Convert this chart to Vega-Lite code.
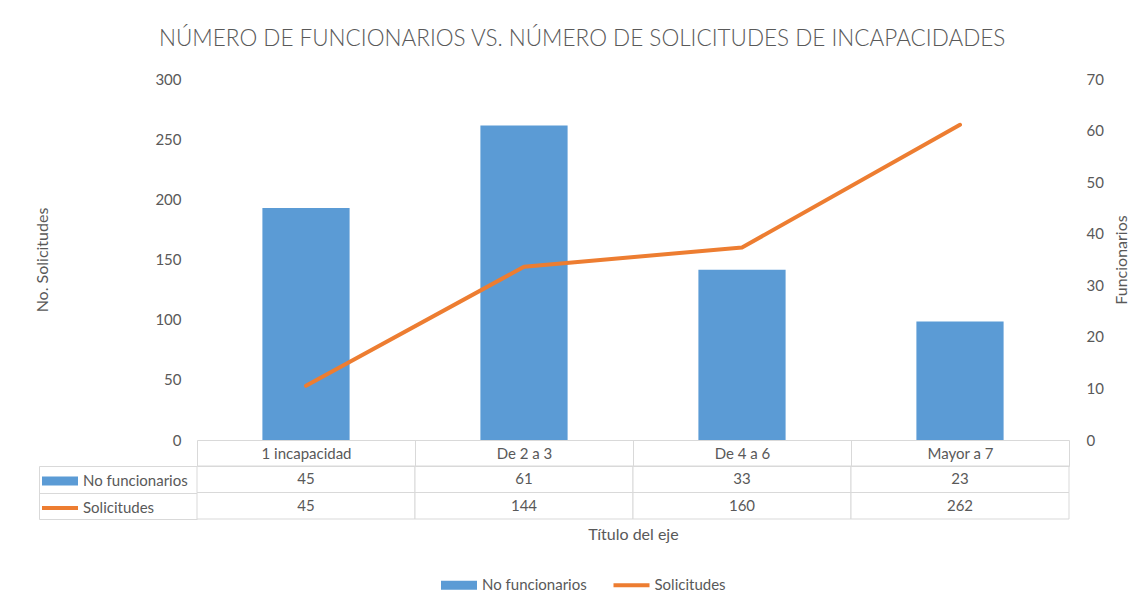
{
  "$schema": "https://vega.github.io/schema/vega-lite/v6.json",
  "background": "white",
  "padding": {"left": 34, "top": 27, "right": 5, "bottom": 5},
  "title": {"text": "NÚMERO DE FUNCIONARIOS VS. NÚMERO DE SOLICITUDES DE INCAPACIDADES", "font": "Lato", "fontWeight": 300, "fontSize": 22.5, "color": "#595959", "anchor": "middle", "offset": 22, "dx": 0},
  "config": {
    "font": "Lato",
    "view": {"stroke": null},
    "axis": {"labelColor": "#595959", "titleColor": "#595959", "labelFont": "Lato", "titleFont": "Lato", "labelFontSize": 15, "titleFontSize": 16, "titleFontWeight": "normal"},
    "legend": {"labelColor": "#595959", "labelFont": "Lato", "labelFontSize": 15, "padding": 0}
  },
  "datasets": {
    "datos": [
      {"cat": "1 incapacidad", "No funcionarios": 45, "Solicitudes": 45},
      {"cat": "De 2 a 3", "No funcionarios": 61, "Solicitudes": 144},
      {"cat": "De 4 a 6", "No funcionarios": 33, "Solicitudes": 160},
      {"cat": "Mayor a 7", "No funcionarios": 23, "Solicitudes": 262}
    ]
  },
  "bounds": "flush",
  "spacing": 26,
  "resolve": {"scale": {"color": "independent"}, "legend": {"color": "independent"}},
  "vconcat": [
    {
      "width": 872,
      "height": 361,
      "data": {"name": "datos"},
      "layer": [
        {
          "mark": {"type": "bar", "width": {"band": 0.4}},
          "encoding": {
            "x": {"field": "cat", "type": "nominal", "scale": {"domain": ["1 incapacidad", "De 2 a 3", "De 4 a 6", "Mayor a 7"], "paddingInner": 0, "paddingOuter": 0}, "axis": {"title": null, "labels": false, "ticks": false, "domainColor": "#D9D9D9", "domainWidth": 1}},
            "y": {"field": "No funcionarios", "type": "quantitative", "scale": {"domain": [0, 70]}, "axis": {"orient": "right", "title": "Funcionarios", "values": [0, 10, 20, 30, 40, 50, 60, 70], "grid": false, "domain": false, "ticks": false, "labelPadding": 17, "titlePadding": 10, "titleAngle": 270, "titleBaseline": "top"}},
            "color": {
              "datum": "No funcionarios", "type": "nominal",
              "scale": {"domain": ["No funcionarios", "Solicitudes"], "range": ["#5B9BD5", "#ED7D31"]},
              "legend": {
                "orient": "none", "legendX": 254.5, "legendY": 498.5, "direction": "horizontal", "title": null,
                "symbolSize": 1296, "columnPadding": 17.5, "labelOffset": 15.5,
                "encode": {"symbols": {"update": {
                  "shape": {"signal": "datum.value === 'Solicitudes' ? 'M-1,0L1,0' : 'M-1,-0.25L1,-0.25L1,0.25L-1,0.25Z'"},
                  "fill": {"signal": "datum.value === 'Solicitudes' ? 'transparent' : '#5B9BD5'"},
                  "stroke": {"signal": "datum.value === 'Solicitudes' ? '#ED7D31' : 'transparent'"},
                  "strokeWidth": {"signal": "datum.value === 'Solicitudes' ? 4 : 0"},
                  "size": {"value": 1296},
                  "opacity": {"value": 1}
                }}}
              }
            }
          }
        },
        {
          "mark": {"type": "line", "strokeWidth": 4, "strokeCap": "round", "strokeJoin": "round"},
          "encoding": {
            "x": {"field": "cat", "type": "nominal", "bandPosition": 0.5},
            "y": {"field": "Solicitudes", "type": "quantitative", "scale": {"domain": [0, 300]}, "axis": {"orient": "left", "title": "No. Solicitudes", "values": [0, 50, 100, 150, 200, 250, 300], "grid": false, "domain": false, "ticks": false, "labelPadding": 16, "titlePadding": 104}},
            "color": {"datum": "Solicitudes", "type": "nominal"}
          }
        }
      ],
      "resolve": {"scale": {"y": "independent"}}
    },
    {
      "width": 872,
      "height": 53,
      "data": {"name": "datos"},
      "transform": [{"fold": ["No funcionarios", "Solicitudes"], "as": ["fila", "valor"]}],
      "encoding": {
        "y": {"field": "fila", "type": "nominal", "scale": {"domain": ["No funcionarios", "Solicitudes"], "paddingInner": 0, "paddingOuter": 0}, "axis": {"title": null, "labels": false, "offset": 158, "tickBand": "extent", "tickSize": -158, "tickColor": "#D9D9D9", "domainColor": "#D9D9D9"}}
      },
      "layer": [
        {
          "mark": {"type": "bar"},
          "encoding": {
            "x": {"field": "cat", "type": "nominal", "scale": {"domain": ["1 incapacidad", "De 2 a 3", "De 4 a 6", "Mayor a 7"], "paddingInner": 0, "paddingOuter": 0}, "axis": null},
            "color": {
              "field": "fila", "type": "nominal",
              "scale": {"range": ["#5B9BD5", "#ED7D31"]},
              "legend": {
                "orient": "none", "legendX": -144.5, "legendY": 7.5, "direction": "vertical", "title": null,
                "symbolSize": 1296, "rowPadding": 10, "labelOffset": 15.5,
                "encode": {"symbols": {"update": {
                  "shape": {"signal": "datum.value === 'Solicitudes' ? 'M-1,0L1,0' : 'M-1,-0.25L1,-0.25L1,0.25L-1,0.25Z'"},
                  "fill": {"signal": "datum.value === 'Solicitudes' ? 'transparent' : '#5B9BD5'"},
                  "stroke": {"signal": "datum.value === 'Solicitudes' ? '#ED7D31' : 'transparent'"},
                  "strokeWidth": {"signal": "datum.value === 'Solicitudes' ? 4 : 0"},
                  "size": {"value": 1296},
                  "opacity": {"value": 1}
                }}}
              }
            }
          }
        },
        {
          "mark": {"type": "rect", "fill": "white", "stroke": "#D9D9D9", "strokeWidth": 1},
          "encoding": {
            "x": {"field": "cat", "type": "nominal", "axis": {"orient": "top", "title": null, "tickBand": "extent", "tickSize": 26, "labelPadding": -21, "tickColor": "#D9D9D9", "domainColor": "#D9D9D9", "labelAngle": 0}}
          }
        },
        {
          "mark": {"type": "text", "fontSize": 15, "color": "#595959", "font": "Lato"},
          "encoding": {
            "x": {"field": "cat", "type": "nominal", "axis": {"orient": "bottom", "title": "Título del eje", "labels": false, "ticks": false, "domain": false, "titlePadding": 7}},
            "text": {"field": "valor", "type": "quantitative"}
          }
        }
      ],
      "resolve": {"axis": {"x": "independent"}}
    }
  ]
}
